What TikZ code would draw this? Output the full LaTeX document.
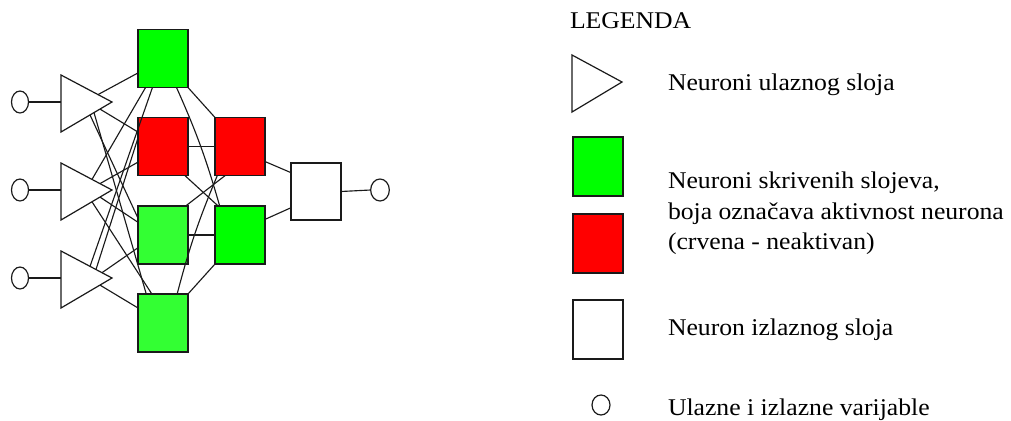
\documentclass[tikz,border=0pt]{standalone}
\usepackage{fontspec}
\setmainfont{Liberation Serif}[FakeStretch=1.07]
\usetikzlibrary{shapes.geometric}
\definecolor{gA}{HTML}{00FF00}
\definecolor{gB}{HTML}{33FF33}
\definecolor{rA}{HTML}{FF0000}
\definecolor{ink}{HTML}{1A1A1A}
\begin{document}
\begin{tikzpicture}[x=0.75pt,y=-0.75pt,
  neuron/.style={draw=ink, line width=0.9pt, minimum width=37.5pt, minimum height=43.5pt, inner sep=0pt, outer sep=0pt},
  var/.style={ellipse, draw=ink, line width=0.9pt, minimum width=12.75pt, minimum height=16.5pt, inner sep=0pt, outer sep=0pt},
  link/.style={draw=ink, line width=0.85pt},
  tri/.style={draw=ink, line width=0.9pt, line join=miter},
  lbl/.style={anchor=base west, inner sep=0pt, outer sep=0pt, font=\fontsize{18}{22}\selectfont}]
\useasboundingbox (0,0) rectangle (1011,421);

% ---------- network: boxes ----------
\node[neuron, fill=gA] (g1) at (163,58.5) {};
\node[neuron, fill=rA] (r1) at (163,146.5) {};
\node[neuron, fill=gB] (g2) at (163,235) {};
\node[neuron, fill=gB] (g3) at (163,323) {};
\node[neuron, fill=rA] (r2) at (240,146.5) {};
\node[neuron, fill=gA, line width=1.3pt] (g4) at (240,235) {};
\node[neuron, fill=white, minimum height=42.75pt] (out) at (316,191.5) {};

% ---------- input / output variables ----------
\node[var] (v1) at (20,102) {};
\node[var] (v2) at (20,190) {};
\node[var] (v3) at (20,278) {};
\node[var, minimum width=14pt] (vo) at (380,190) {};

% ---------- input triangles (drawn shapes) ----------
\coordinate (t1a) at (61,75);  \coordinate (t1tip) at (112,102); \coordinate (t1b) at (61,132); \coordinate (t1in) at (61,102);
\coordinate (t2a) at (61,163); \coordinate (t2tip) at (112,190); \coordinate (t2b) at (61,220); \coordinate (t2in) at (61,190);
\coordinate (t3a) at (61,251); \coordinate (t3tip) at (112,278); \coordinate (t3b) at (61,308); \coordinate (t3in) at (61,278);
\draw[tri] (t1a) -- (t1tip) -- (t1b) -- cycle;
\draw[tri] (t2a) -- (t2tip) -- (t2b) -- cycle;
\draw[tri] (t3a) -- (t3tip) -- (t3b) -- cycle;

% connection start points on triangle edges
\coordinate (s11) at (98,94.6);  \coordinate (s12) at (100,109.1); \coordinate (s13) at (90,114.9); \coordinate (s14) at (94,112.6);
\coordinate (s21) at (92,179.4); \coordinate (s22) at (100,183.6); \coordinate (s23) at (100,197.1); \coordinate (s24) at (92,201.8);
\coordinate (s31) at (90,266.4); \coordinate (s32) at (96,269.5); \coordinate (s33) at (102,272.7); \coordinate (s34) at (100,285.1);

% variables to triangles
\draw[link] (v1.east) -- (t1in);
\draw[link] (v2.east) -- (t2in);
\draw[link] (v3.east) -- (t3in);

% triangles to first hidden layer
\draw[link] (s11) -- (g1.210);
\draw[link] (s12) -- (r1.150);
\draw[link] (s13) -- (g2.146);
\draw[link] (s14) -- (g3.120);
\draw[link] (s21) -- (g1.239);
\draw[link] (s22) -- (r1.212);
\draw[link] (s23) -- (g2.153);
\draw[link] (s24) -- (g3.111);
\draw[link] (s31) -- (g1.250);
\draw[link] (s32) -- (r1.161);
\draw[link] (s33) -- (g2.207);
\draw[link] (s34) -- (g3.149);

% first hidden layer to second hidden layer
\draw[link] (g1.south east) -- (r2.north west);
\draw[link] (g1.295) to[bend left=4] (g4.125);
\draw[link] (r1.east) -- (r2.west);
\draw[link] (r1.307) -- (g4.127);
\draw[link] (g2.52) -- (r2.243);
\draw[link] (g2.east) -- (g4.west);
\draw[link] (g3.64) to[bend left=4] (r2.232);
\draw[link] (g3.north east) -- (g4.south west);

% second hidden layer to output
\draw[link] (r2.329) -- (out.143);
\draw[link] (g4.32) -- (out.213);
\draw[link] (out.east) -- (vo.west);

% ---------- legend ----------
\node[lbl] (legtitle) at (570,28) {LEGENDA};
\coordinate (la) at (572,55); \coordinate (ltip) at (622,82); \coordinate (lb) at (572,112);
\draw[tri] (la) -- (ltip) -- (lb) -- cycle;
\node[neuron, fill=gA, minimum height=44.25pt] (lg) at (598,166.5) {};
\node[neuron, fill=rA, minimum height=44.25pt] (lr) at (598,243.5) {};
\node[neuron, fill=white, minimum height=44.25pt] (lw) at (598,329.5) {};
\node[var, minimum width=13.5pt, minimum height=15pt] (lv) at (601,405) {};

\node[lbl] (l1) at (668,90) {Neuroni ulaznog sloja};
\node[lbl] (l2a) at (668,188) {Neuroni skrivenih slojeva,};
\node[lbl] (l2b) at (668,219) {boja označava aktivnost neurona};
\node[lbl] (l2c) at (668,249) {(crvena - neaktivan)};
\node[lbl] (l3) at (668,335) {Neuron izlaznog sloja};
\node[lbl] (l4) at (668,415) {Ulazne i izlazne varijable};
\end{tikzpicture}
\end{document}
